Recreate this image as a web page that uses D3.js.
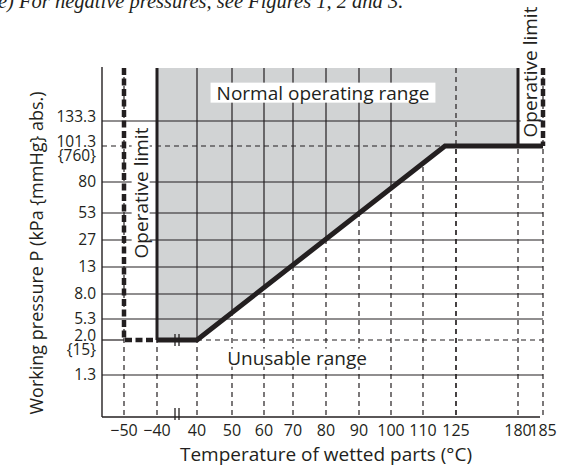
<!DOCTYPE html>
<html>
<head>
<meta charset="utf-8">
<script src="https://cdn.jsdelivr.net/npm/d3@7"></script>
<style>
  body { margin: 0; background: #fff; }
  text { font-family: "Open Sans", sans-serif; fill: #231f20; }
</style>
</head>
<body>
<div id="chart"></div>
<script>
// temperature ticks (°C) and their labels
var xTicks = [-50, -40, 40, 50, 60, 70, 80, 90, 100, 110, 125, 180, 185];
var xLabels = ["\u221250", "\u221240", "40", "50", "60", "70", "80", "90", "100", "110", "125", "180", "185"];

// pressure ticks (kPa abs.) and labels, with mmHg sub labels
var yTicks = [1.3, 2.0, 5.3, 8.0, 13, 27, 53, 80, 101.3, 133.3];
var yLabels = ["1.3", "2.0", "5.3", "8.0", "13", "27", "53", "80", "101.3", "133.3"];
var ySubLabels = ["", "{15}", "", "", "", "", "", "", "{760}", ""];

var pTop = 160; // pressure value at the top edge of the plot

// normal operating range boundary
var normalRange = [[-40, pTop], [-40, 2.0], [40, 2.0], [120, 101.3], [180, 101.3], [180, pTop]];
var limitCurve = [[-40, 2.0], [40, 2.0], [120, 101.3], [185, 101.3]];
var leftLimit = [[-50, pTop], [-50, 2.0], [-40, 2.0]];
var rightLimit = [[185, pTop], [185, 101.3]];
var solidInRange = [40, 50, 60, 70, 80, 90, 100];
var dashedInRange = [125];
var solidRows = [1.3, 5.3, 8.0, 13, 27, 53, 80, 133.3];

var margin = {top: 68, right: 18, bottom: 55, left: 102};
var width = 561 - margin.left - margin.right;
var height = 472 - margin.top - margin.bottom;
var ink = "#231f20";

// the grid of the original is hand spaced, so both scales are piecewise
var x = d3.scaleLinear()
  .domain(xTicks)
  .range([22, 55, 95, 130, 162, 191, 224, 257, 289, 321, 354, 416, 441]);

var y = d3.scaleLinear()
  .domain([0].concat(yTicks, [pTop]))
  .range([height, 307, 272, 251, 226, 199, 172, 145, 114, 78, 53, 0]);

var line = d3.line()
  .x(function (d) { return x(d[0]); })
  .y(function (d) { return y(d[1]); });

var svg = d3.select("#chart").append("svg")
  .attr("width", 561)
  .attr("height", 472);

// caption cut off at the top
svg.append("text")
  .attr("x", -2)
  .attr("y", 8)
  .style("font-family", "'Liberation Serif', serif")
  .style("font-style", "italic")
  .style("font-size", "20.5px")
  .text("e) For negative pressures, see Figures 1, 2 and 3.");

var g = svg.append("g")
  .attr("transform", "translate(" + margin.left + "," + margin.top + ")");

// dashed verticals, full height
g.selectAll(".vdash")
  .data(xTicks)
  .enter().append("line")
  .attr("x1", x).attr("x2", x)
  .attr("y1", 0).attr("y2", height)
  .attr("stroke", ink).attr("stroke-width", 1.2)
  .attr("stroke-dasharray", "5,4");

// shaded range
g.append("path")
  .attr("d", line(normalRange) + "Z")
  .attr("fill", "#d1d3d4");

g.append("clipPath").attr("id", "range")
  .append("path").attr("d", line(normalRange) + "Z");

g.selectAll(".vsolid")
  .data(solidInRange)
  .enter().append("line")
  .attr("clip-path", "url(#range)")
  .attr("x1", x).attr("x2", x)
  .attr("y1", 0).attr("y2", height)
  .attr("stroke", ink).attr("stroke-width", 1.2);

g.selectAll(".vdash2")
  .data(dashedInRange)
  .enter().append("line")
  .attr("x1", x).attr("x2", x)
  .attr("y1", 0).attr("y2", height)
  .attr("stroke", ink).attr("stroke-width", 1.2)
  .attr("stroke-dasharray", "5,4");

// horizontal grid
g.selectAll(".hsolid")
  .data(solidRows)
  .enter().append("line")
  .attr("x1", 0).attr("x2", x(185))
  .attr("y1", y).attr("y2", y)
  .attr("stroke", ink).attr("stroke-width", 1.2);

g.append("line")
  .attr("x1", 0).attr("x2", x(-50))
  .attr("y1", y(2.0)).attr("y2", y(2.0))
  .attr("stroke", ink).attr("stroke-width", 1.2);

g.append("line")
  .attr("x1", x(40)).attr("x2", x(185))
  .attr("y1", y(2.0)).attr("y2", y(2.0))
  .attr("stroke", ink).attr("stroke-width", 1.2)
  .attr("stroke-dasharray", "5,4");

g.append("line")
  .attr("x1", 0).attr("x2", x(120))
  .attr("y1", y(101.3)).attr("y2", y(101.3))
  .attr("stroke", ink).attr("stroke-width", 1.2)
  .attr("stroke-dasharray", "5,4");

// axes
g.append("line")
  .attr("x1", 0).attr("x2", 0)
  .attr("y1", -1).attr("y2", height)
  .attr("stroke", ink).attr("stroke-width", 1.4);
g.append("line")
  .attr("x1", 0).attr("x2", width - 3)
  .attr("y1", height).attr("y2", height)
  .attr("stroke", ink).attr("stroke-width", 1.4);

// limits
g.append("path")
  .attr("d", line(leftLimit))
  .attr("fill", "none").attr("stroke", ink).attr("stroke-width", 4.5)
  .attr("stroke-dasharray", "7,3.5");
g.append("path")
  .attr("d", line(rightLimit))
  .attr("fill", "none").attr("stroke", ink).attr("stroke-width", 4.5)
  .attr("stroke-dasharray", "7,3.5");

[[[-40, pTop], [-40, 2.0]], [[180, pTop], [180, 101.3]]].forEach(function (seg) {
  g.append("path")
    .attr("d", line(seg))
    .attr("fill", "none").attr("stroke", ink).attr("stroke-width", 3);
});

g.append("path")
  .attr("d", line(limitCurve))
  .attr("fill", "none").attr("stroke", ink).attr("stroke-width", 5)
  .attr("stroke-linejoin", "miter");

// axis breaks between -40 and 40
[y(2.0), height - 3].forEach(function (yy) {
  [-2, 2].forEach(function (dx) {
    g.append("line")
      .attr("x1", x(0) + dx).attr("x2", x(0) + dx)
      .attr("y1", yy - 6).attr("y2", yy + 6)
      .attr("stroke", ink).attr("stroke-width", 1.3);
  });
});

// tick labels
g.selectAll(".xl")
  .data(xTicks)
  .enter().append("text")
  .attr("x", x)
  .attr("y", height + 19)
  .attr("text-anchor", "middle")
  .style("font-size", "16px")
  .text(function (d, i) { return xLabels[i]; });

yTicks.forEach(function (v, i) {
  var sub = ySubLabels[i];
  var base = sub ? y(v) + 0.5 : y(v) + 4.5;
  if (v === 133.3) base = y(v) + 1;
  g.append("text")
    .attr("x", -6).attr("y", base)
    .attr("text-anchor", "end")
    .style("font-size", "15.5px")
    .text(yLabels[i]);
  if (sub) {
    g.append("text")
      .attr("x", -6).attr("y", base + 14)
      .attr("text-anchor", "end")
      .style("font-size", "15.5px")
      .text(sub);
  }
});

// labelled boxes
function boxed(parent, tx, ty, rot, str, size, padX, padY) {
  var t = parent.append("g")
    .attr("transform", "translate(" + tx + "," + ty + ") rotate(" + rot + ")");
  var r = t.append("rect").attr("fill", "#fff");
  var txt = t.append("text")
    .attr("text-anchor", "middle")
    .attr("dy", "0.35em")
    .style("font-size", size + "px")
    .text(str);
  var b = txt.node().getBBox();
  r.attr("x", b.x - padX).attr("y", b.y - padY)
    .attr("width", b.width + 2 * padX).attr("height", b.height + 2 * padY);
}

boxed(svg, 323, 93, 0, "Normal operating range", 19, 6, -3);
boxed(svg, 297, 358, 0, "Unusable range", 19, 2, -4);
boxed(svg, 141, 193, -90, "Operative limit", 19, 2, -4);
boxed(svg, 530, 72, -90, "Operative limit", 19, 2, -4);

// axis titles
svg.append("text")
  .attr("x", 326).attr("y", 461)
  .attr("text-anchor", "middle")
  .style("font-size", "19px")
  .text("Temperature of wetted parts (\u00b0C)");

svg.append("text")
  .attr("transform", "translate(43,253) rotate(-90)")
  .attr("text-anchor", "middle")
  .style("font-size", "18px")
  .text("Working pressure P (kPa {mmHg} abs.)");
</script>
</body>
</html>
